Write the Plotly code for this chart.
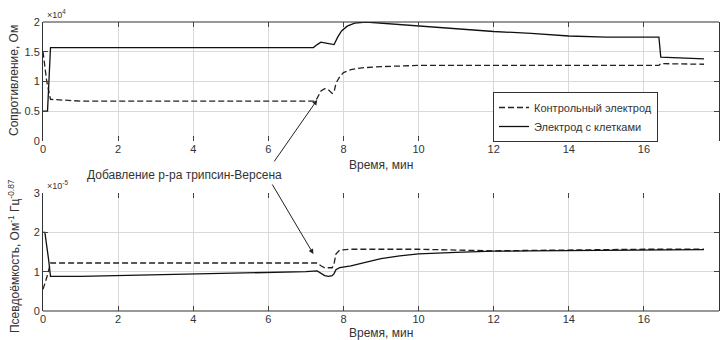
import plotly.graph_objects as go

# ---- data ----
# Top panel: resistance, units of 1e4 Ohm
t_r_cells = [0, 0.12, 0.2, 1, 3, 5, 7.2, 7.3, 7.4, 7.5, 7.6, 7.7, 7.75, 7.85, 7.95, 8.1, 8.3, 8.6,
             9, 10, 11, 12, 13, 14, 15, 16, 16.4, 16.45, 17, 17.6]
r_cells = [0.5, 0.5, 1.57, 1.57, 1.57, 1.57, 1.57, 1.62, 1.66, 1.65, 1.64, 1.62, 1.62, 1.75, 1.85, 1.93, 1.98, 2.0,
           1.98, 1.93, 1.89, 1.84, 1.81, 1.765, 1.745, 1.745, 1.745, 1.41, 1.40, 1.38]

t_r_ctrl = [0, 0.1, 0.2, 0.6, 1, 3, 5, 7.25, 7.3, 7.4, 7.5, 7.6, 7.7, 7.75, 7.8, 7.9, 8.0, 8.2, 8.5,
            9, 10, 12, 14, 16.4, 16.45, 17, 17.6]
r_ctrl = [1.5, 1.0, 0.7, 0.68, 0.67, 0.67, 0.67, 0.67, 0.72, 0.84, 0.88, 0.86, 0.80, 0.82, 0.97, 1.08, 1.15, 1.2, 1.23,
          1.25, 1.27, 1.27, 1.27, 1.27, 1.30, 1.30, 1.29]

# Bottom panel: pseudo-capacitance, units of 1e-5
t_c_cells = [0, 0.05, 0.15, 0.2, 1, 2, 3, 4, 5, 6, 7, 7.3, 7.4, 7.5, 7.6, 7.7, 7.75, 7.8, 7.9, 8.2, 8.5,
             9, 9.5, 10, 11, 12, 13, 14, 15, 16, 17, 17.6]
c_cells = [2.0, 2.0, 1.3, 0.88, 0.88, 0.9, 0.91, 0.94, 0.96, 0.98, 1.0, 1.02, 0.95, 0.9, 0.88, 0.9, 0.95, 1.05, 1.1, 1.15, 1.22,
           1.33, 1.40, 1.45, 1.49, 1.52, 1.53, 1.54, 1.55, 1.55, 1.56, 1.56]

t_c_ctrl = [0, 0.1, 0.2, 1, 3, 5, 7.3, 7.4, 7.5, 7.7, 7.75, 7.8, 7.9, 8.2, 10, 12, 14, 15, 16, 17.6]
c_ctrl = [0.55, 0.85, 1.22, 1.22, 1.22, 1.22, 1.22, 1.15, 1.1, 1.1, 1.2, 1.45, 1.55, 1.57, 1.57, 1.53, 1.54, 1.56, 1.57, 1.57]

x_ticks = [0, 2, 4, 6, 8, 10, 12, 14, 16, 18]
r_ticks = [0, 0.5, 1, 1.5, 2]
r_tick_text = ["0", "0.5", "1", "1.5", "2"]
c_ticks = [0, 1, 2, 3]

name_ctrl = "Контрольный электрод"
name_cells = "Электрод с клетками"

FONT = "Liberation Sans, Arial, sans-serif"
TXT = "#333333"
GRID = "#d9d9d9"

W, H = 724, 340
ML, MR, MT, MB = 43, 5, 22, 29
PW, PH = W - ML - MR, H - MT - MB


def px(xp):
    return (xp - ML) / PW


def py(yp):
    return (H - MB - yp) / PH


fig = go.Figure()
fig.add_trace(go.Scatter(x=t_r_ctrl, y=r_ctrl, mode="lines", name=name_ctrl,
                         line=dict(color="#222222", width=1.3, dash="6px,3px"), xaxis="x", yaxis="y"))
fig.add_trace(go.Scatter(x=t_r_cells, y=r_cells, mode="lines", name=name_cells,
                         line=dict(color="#111111", width=1.3), xaxis="x", yaxis="y"))
fig.add_trace(go.Scatter(x=t_c_ctrl, y=c_ctrl, mode="lines", showlegend=False,
                         line=dict(color="#222222", width=1.3, dash="6px,3px"), xaxis="x2", yaxis="y2"))
fig.add_trace(go.Scatter(x=t_c_cells, y=c_cells, mode="lines", showlegend=False,
                         line=dict(color="#111111", width=1.3), xaxis="x2", yaxis="y2"))

xcommon = dict(range=[0, 18], tickvals=x_ticks, ticks="inside", ticklen=5, tickcolor="#444",
               mirror="ticks", showgrid=True, gridcolor=GRID, gridwidth=1, zeroline=False,
               showline=False, automargin=False, tickfont=dict(family=FONT, size=11, color=TXT))
ycommon = dict(ticks="inside", ticklen=5, tickcolor="#444", mirror="ticks", showgrid=True,
               gridcolor=GRID, gridwidth=1, zeroline=False, showline=True, linecolor="#333",
               linewidth=1, automargin=False, tickfont=dict(family=FONT, size=11, color=TXT))

fig.update_layout(
    width=W, height=H,
    margin=dict(l=ML, r=MR, t=MT, b=MB, autoexpand=False),
    paper_bgcolor="white", plot_bgcolor="white",
    font=dict(family=FONT, size=11, color=TXT),
    xaxis=dict(domain=[0, 1], anchor="y", **xcommon),
    yaxis=dict(domain=[py(141), 1.0], anchor="x", range=[0, 2], tickvals=r_ticks, ticktext=r_tick_text,
               **ycommon),
    xaxis2=dict(domain=[0, 1], anchor="y2", **xcommon),
    yaxis2=dict(domain=[0, py(193)], anchor="x2", range=[0, 3], tickvals=c_ticks, **ycommon),
    legend=dict(x=px(493), y=py(92), xanchor="left", yanchor="top", bgcolor="white",
                bordercolor="#333", borderwidth=1, font=dict(family=FONT, size=11, color=TXT),
                tracegroupgap=0, itemwidth=30),
    showlegend=True,
)

# frame lines visible in the reference
fig.add_shape(type="line", xref="x domain", yref="y domain", x0=0, x1=1, y0=1, y1=1,
              line=dict(color="#333", width=1.2))
fig.add_shape(type="line", xref="x2 domain", yref="y2 domain", x0=0, x1=1, y0=0, y1=0,
              line=dict(color="#333", width=1.2))

# y-axis titles
fig.add_annotation(text="Сопротивление, Ом", xref="paper", yref="paper", x=px(14), y=py(81),
                   xanchor="center", yanchor="middle", textangle=-90, showarrow=False,
                   font=dict(family=FONT, size=12, color=TXT))
fig.add_annotation(text="Псевдоёмкость, Ом<sup>-1</sup> Гц<sup>-0.87</sup>", xref="paper", yref="paper",
                   x=px(14), y=py(256), xanchor="center", yanchor="middle", textangle=-90, showarrow=False,
                   font=dict(family=FONT, size=12, color=TXT))

# exponent labels
fig.add_annotation(text="×10<sup>4</sup>", xref="paper", yref="paper", x=px(45), y=py(14),
                   xanchor="left", yanchor="middle", showarrow=False,
                   font=dict(family=FONT, size=9, color=TXT))
fig.add_annotation(text="×10<sup>-5</sup>", xref="paper", yref="paper", x=px(45), y=py(185),
                   xanchor="left", yanchor="middle", showarrow=False,
                   font=dict(family=FONT, size=9, color=TXT))

# x-axis titles
fig.add_annotation(text="Время, мин", xref="paper", yref="paper", x=px(381), y=py(165),
                   xanchor="center", yanchor="middle", showarrow=False,
                   font=dict(family=FONT, size=12, color=TXT))
fig.add_annotation(text="Время, мин", xref="paper", yref="paper", x=px(381), y=py(333),
                   xanchor="center", yanchor="middle", showarrow=False,
                   font=dict(family=FONT, size=12, color=TXT))

# annotation text with arrows
fig.add_annotation(text="Добавление р-ра трипсин-Версена", xref="paper", yref="paper",
                   x=px(184), y=py(175), xanchor="center", yanchor="middle", showarrow=False,
                   font=dict(family=FONT, size=12, color=TXT))
fig.add_annotation(text="", xref="x", yref="y", x=7.3, y=0.69, ax=-44, ay=63,
                   showarrow=True, arrowhead=2, arrowsize=1, arrowwidth=1, arrowcolor="#222")
fig.add_annotation(text="", xref="x2", yref="y2", x=7.2, y=1.45, ax=-42, ay=-71,
                   showarrow=True, arrowhead=2, arrowsize=1, arrowwidth=1, arrowcolor="#222")

fig.write_html("out.html", config={"displayModeBar": False},
               post_script="document.body.style.margin='0';document.body.style.padding='0';")
